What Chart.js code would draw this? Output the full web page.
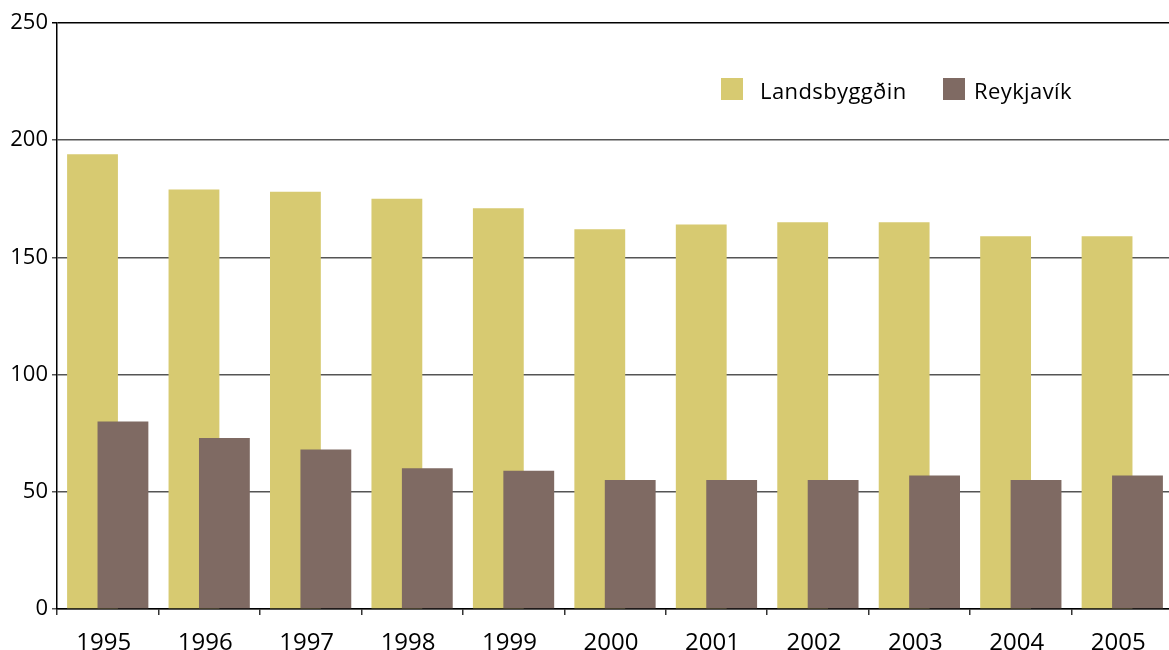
<!DOCTYPE html>
<html>
<head>
<meta charset="utf-8">
<script src="https://cdn.jsdelivr.net/npm/chart.js@4.4.1/dist/chart.umd.min.js"></script>
<style>
  html, body { margin: 0; padding: 0; background: #fff; overflow: hidden; }
  #wrap { position: absolute; left: 0; top: 0; width: 1173px; height: 650px; }
</style>
</head>
<body>
<div id="wrap"><canvas id="c" width="1173" height="650"></canvas></div>
<script>
const years = ['1995','1996','1997','1998','1999','2000','2001','2002','2003','2004','2005'];
const landsbyggdin = [194, 179, 178, 175, 171, 162, 164, 165, 165, 159, 159];
const reykjavik = [80, 73, 68, 60, 59, 55, 55, 55, 57, 55, 57];
const seriesNames = ['Landsbyggðin', 'Reykjavík'];
const yTicks = [0, 50, 100, 150, 200, 250];

const YELLOW = '#D7CA71';
const BROWN = '#7F6A63';
const FONT = "'Open Sans', 'DejaVu Sans', sans-serif";

// draw first dataset underneath the second (overlapping bars)
const layerFix = {
  id: 'layerFix',
  beforeDatasetsDraw(chart) {
    const meta = chart.getDatasetMeta(0);
    meta.controller.draw();
  },
  beforeDatasetDraw(chart, args) {
    if (args.index === 0) return false;
  }
};

const insideLegend = {
  id: 'insideLegend',
  afterDraw(chart) {
    const ctx = chart.ctx;
    const a = chart.chartArea;
    ctx.save();
    ctx.font = '22px ' + FONT;
    try { ctx.letterSpacing = '0.4px'; } catch (e) {}
    ctx.textBaseline = 'alphabetic';
    ctx.textAlign = 'left';
    const items = [
      { x: a.left + 664, tx: a.left + 703, color: YELLOW, text: seriesNames[0] },
      { x: a.left + 886, tx: a.left + 917, color: BROWN, text: seriesNames[1] }
    ];
    const boxTop = a.top + 55;
    items.forEach(it => {
      ctx.fillStyle = it.color;
      ctx.fillRect(it.x, boxTop, 22, 22);
      ctx.fillStyle = '#000';
      ctx.fillText(it.text, it.tx, boxTop + 20.5);
    });
    ctx.restore();
  }
};

new Chart(document.getElementById('c'), {
  type: 'bar',
  data: {
    labels: years,
    datasets: [
      { label: seriesNames[0], data: landsbyggdin, backgroundColor: YELLOW, borderWidth: 0 },
      { label: seriesNames[1], data: reykjavik, backgroundColor: BROWN, borderWidth: 0 }
    ]
  },
  options: {
    responsive: false,
    animation: false,
    categoryPercentage: 0.6,
    barPercentage: 1.67,
    layout: { padding: { left: 0, top: 23, right: 0, bottom: 0 } },
    plugins: {
      legend: { display: false },
      tooltip: { enabled: false }
    },
    scales: {
      x: {
        offset: true,
        grid: {
          offset: true,
          drawOnChartArea: false,
          drawTicks: true,
          tickLength: 6,
          color: '#333',
          lineWidth: 1.5
        },
        border: { display: true, color: '#000', width: 1.5 },
        ticks: {
          color: '#000',
          font: { family: FONT, size: 24 },
          padding: 14,
          labelOffset: -4,
          maxRotation: 0,
          autoSkip: false
        },
        afterFit(scale) { scale.height = 41; }
      },
      y: {
        min: 0,
        max: 250,
        afterBuildTicks(scale) { scale.ticks = yTicks.map(v => ({ value: v })); },
        grid: {
          drawTicks: true,
          tickLength: 5,
          color: (c) => (c.tick && c.tick.value === 250) ? '#000' : '#555',
          lineWidth: 1.5
        },
        border: { display: true, color: '#000', width: 1.5 },
        ticks: {
          color: '#000',
          font: { family: FONT, size: 22 },
          padding: 4
        },
        afterFit(scale) { scale.width = 57; }
      }
    }
  },
  plugins: [layerFix, insideLegend]
});
</script>
</body>
</html>
